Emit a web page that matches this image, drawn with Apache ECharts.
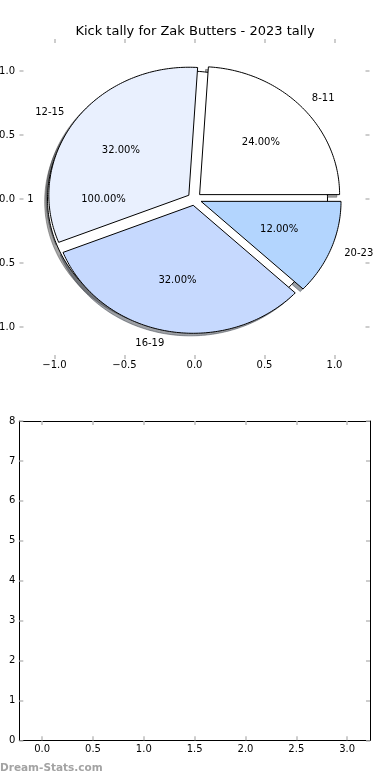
<!DOCTYPE html>
<html><head><meta charset="utf-8">
<script src="https://cdn.jsdelivr.net/npm/echarts@6/dist/echarts.min.js"></script>
<style>html,body{margin:0;padding:0;background:#fff}#c{width:390px;height:780px}</style>
</head><body><div id="c"></div>
<script>
// ---- data ----
const chartTitle = 'Kick tally for Zak Butters - 2023 tally';
const categories = ['8-11', '12-15', '16-19', '20-23'];
const shares = [24, 32, 32, 12];
const outerCategories = ['1'];
const outerShares = [1];
const pieTicks = [-1, -0.5, 0, 0.5, 1];
const emptyXTicks = [0, 0.5, 1, 1.5, 2, 2.5, 3];
const emptyYTicks = [0, 1, 2, 3, 4, 5, 6, 7, 8];
const watermark = 'Dream-Stats.com';

// ---- style ----
const palette = ['#ffffff', '#e9f0fe', '#c6d9fe', '#b3d5fe'];
const outerPalette = ['#ffffff'];
const EXPLODE = 0.05, SHADOW = 0.02, LABEL_R = 1.1, PCT_R = 0.6;
const FONT = 'DejaVu Sans';
const TICK = '#bdbdbd';

function wedges(values, startDeg) {
  const total = values.reduce((a, b) => a + b, 0);
  let a = startDeg;
  return values.map((v, i) => {
    const span = 360 * v / total;
    const w = { i, a1: a, a2: a + span, mid: a + span / 2, pct: 100 * v / total, full: span >= 359.999 };
    a += span;
    return w;
  });
}
const outerW = wedges(outerShares, 0).map(w => Object.assign(w, { color: outerPalette[w.i], label: outerCategories[w.i] }));
const innerW = wedges(shares, 0).map(w => Object.assign(w, { color: palette[w.i], label: categories[w.i] }));
const allW = outerW.concat(innerW);

function wedgePts(api, w, dx, dy) {
  const m = w.mid * Math.PI / 180;
  const cx = EXPLODE * Math.cos(m) + dx, cy = EXPLODE * Math.sin(m) + dy;
  const pts = [];
  if (!w.full) pts.push(api.coord([cx, cy]));
  const n = Math.max(4, Math.ceil(w.a2 - w.a1));
  for (let k = 0; k <= n; k++) {
    const t = (w.a1 + (w.a2 - w.a1) * k / n) * Math.PI / 180;
    pts.push(api.coord([cx + Math.cos(t), cy + Math.sin(t)]));
  }
  return pts;
}
function shade(hex) {
  const r = parseInt(hex.slice(1, 3), 16), g = parseInt(hex.slice(3, 5), 16), b = parseInt(hex.slice(5, 7), 16);
  return 'rgba(' + Math.round(r * 0.3) + ',' + Math.round(g * 0.3) + ',' + Math.round(b * 0.3) + ',0.5)';
}
const labels = [];
allW.forEach(w => {
  const m = w.mid * Math.PI / 180;
  const ex = EXPLODE * Math.cos(m), ey = EXPLODE * Math.sin(m);
  const lx = ex + LABEL_R * Math.cos(m), ly = ey + LABEL_R * Math.sin(m);
  labels.push({ text: w.label, x: lx, y: ly, align: lx > 0 ? 'left' : 'right' });
  labels.push({ text: w.pct.toFixed(2) + '%', x: ex + PCT_R * Math.cos(m), y: ey + PCT_R * Math.sin(m), align: 'center' });
});

const fmt = v => (Math.round(v * 10) / 10).toFixed(1).replace('-', '\u2212');

function ticks(values) {
  return { show: true, inside: true, length: 4, lineStyle: { color: TICK, width: 1.5 }, customValues: values };
}
function axis(extra, frame) {
  return Object.assign({
    type: 'value', splitLine: { show: false },
    axisLine: { show: !!frame, onZero: false, lineStyle: { color: '#000', width: 1 } },
    axisLabel: { show: false }
  }, extra);
}
function lbl(values, margin, formatter) {
  return { show: true, customValues: values, formatter: formatter, fontSize: 10, color: '#000', fontFamily: FONT, margin: margin };
}

const chart = echarts.init(document.getElementById('c'), null, { renderer: 'canvas' });
chart.setOption({
  animation: false,
  backgroundColor: '#fff',
  textStyle: { fontFamily: FONT },
  title: { text: chartTitle, left: 'center', top: 20, textStyle: { fontFamily: FONT, fontSize: 13, fontWeight: 'normal', color: '#000' } },
  graphic: [{ type: 'text', left: 0, top: 763, style: { text: watermark, fontFamily: FONT, fontSize: 10.5, fontWeight: 'bold', fill: '#a3a3a3' } }],
  grid: [
    { left: 19.5, right: 20.5, top: 39, height: 320, containLabel: false, outerBoundsMode: 'none' },
    { left: 19.3, right: 20, top: 421, height: 319.3, containLabel: false, outerBoundsMode: 'none' }
  ],
  xAxis: [
    axis({ gridIndex: 0, position: 'bottom', min: -1.25, max: 1.25, axisTick: ticks(pieTicks), axisLabel: lbl(pieTicks, 1, fmt) }, false),
    axis({ gridIndex: 0, position: 'top', min: -1.25, max: 1.25, axisTick: ticks(pieTicks) }, false),
    axis({ gridIndex: 1, position: 'bottom', min: -0.225, max: 3.225, axisTick: ticks(emptyXTicks), axisLabel: lbl(emptyXTicks, 4, fmt) }, true),
    axis({ gridIndex: 1, position: 'top', min: -0.225, max: 3.225, axisTick: ticks(emptyXTicks) }, true)
  ],
  yAxis: [
    axis({ gridIndex: 0, position: 'left', min: -1.25, max: 1.25, axisTick: ticks(pieTicks), axisLabel: lbl(pieTicks, 4.5, fmt) }, false),
    axis({ gridIndex: 0, position: 'right', min: -1.25, max: 1.25, axisTick: ticks(pieTicks) }, false),
    axis({ gridIndex: 1, position: 'left', min: 0, max: 8, axisTick: ticks(emptyYTicks), axisLabel: lbl(emptyYTicks, 4, v => String(v)) }, true),
    axis({ gridIndex: 1, position: 'right', min: 0, max: 8, axisTick: ticks(emptyYTicks) }, true)
  ],
  series: [
    { // shadows
      type: 'custom', xAxisIndex: 0, yAxisIndex: 0, z: 1, silent: true, clip: false,
      data: allW.map((w, k) => [0, 0, k]), encode: { x: 0, y: 1 },
      renderItem: (params, api) => {
        const w = allW[api.value(2)];
        const c = shade(w.color);
        return { type: 'polygon', shape: { points: wedgePts(api, w, -SHADOW, -SHADOW) }, style: { fill: c, stroke: c, lineWidth: 1 } };
      }
    },
    { // outer single-value pie
      type: 'custom', xAxisIndex: 0, yAxisIndex: 0, z: 2, silent: true, clip: false,
      data: outerW.map((w, k) => [0, 0, k]), encode: { x: 0, y: 1 },
      renderItem: (params, api) => {
        const w = outerW[api.value(2)];
        return { type: 'polygon', shape: { points: wedgePts(api, w, 0, 0) }, style: { fill: w.color, stroke: '#000', lineWidth: 1, lineJoin: 'miter' } };
      }
    },
    { // main pie wedges
      type: 'custom', xAxisIndex: 0, yAxisIndex: 0, z: 3, silent: true, clip: false,
      data: innerW.map((w, k) => [0, 0, k]), encode: { x: 0, y: 1 },
      renderItem: (params, api) => {
        const w = innerW[api.value(2)];
        return { type: 'polygon', shape: { points: wedgePts(api, w, 0, 0) }, style: { fill: w.color, stroke: '#000', lineWidth: 1, lineJoin: 'miter' } };
      }
    },
    { // labels
      type: 'custom', xAxisIndex: 0, yAxisIndex: 0, z: 4, silent: true, clip: false,
      data: labels.map(l => [l.x, l.y]), encode: { x: 0, y: 1 },
      renderItem: (params, api) => {
        const l = labels[params.dataIndex];
        const p = api.coord([l.x, l.y]);
        return { type: 'text', x: p[0], y: p[1], style: { text: l.text, fill: '#000', fontSize: 10, fontFamily: FONT, align: l.align, verticalAlign: 'middle' } };
      }
    },
    { type: 'line', xAxisIndex: 2, yAxisIndex: 2, data: [] }
  ]
});
</script></body></html>
